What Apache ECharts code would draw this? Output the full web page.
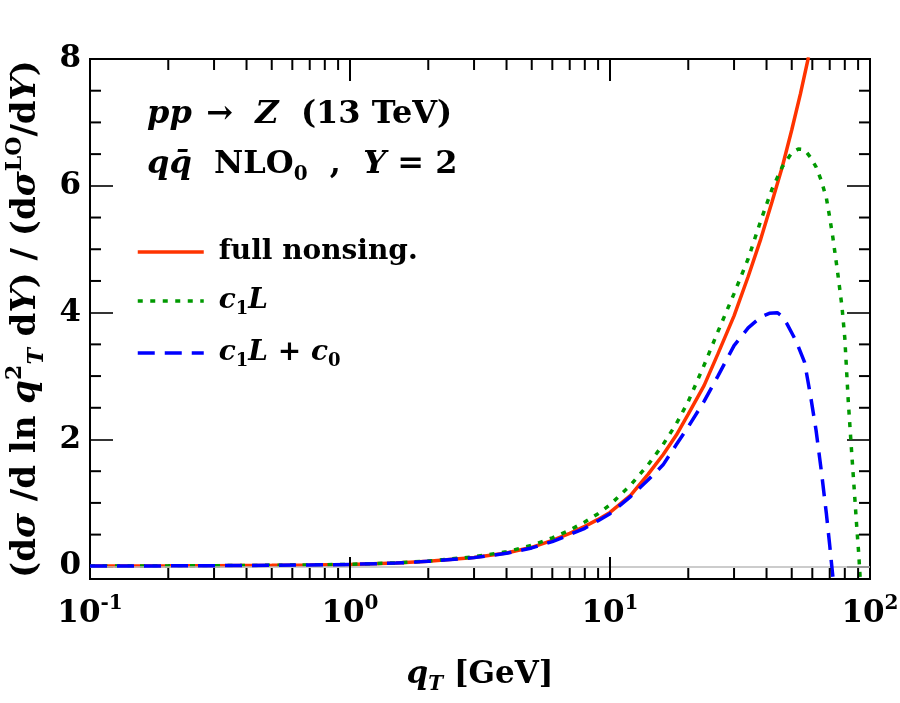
<!DOCTYPE html>
<html lang="en">
  <head>
    <meta charset="utf-8" />
    <title>qqbar NLO0 nonsingular ratio</title>
    <script src="https://cdn.jsdelivr.net/npm/echarts@6/dist/echarts.min.js"></script>
    <style>
      html, body { margin: 0; padding: 0; background: #fff; }
      #chart { width: 900px; height: 703px; }
    </style>
  </head>
  <body>
    <div id="chart"></div>
    <script>
      // values (qT in GeV, ratio)
      var qtFull = [0.1, 0.2, 0.3, 0.5, 0.7, 1, 1.5, 2, 3, 4, 5, 6, 7, 8, 9, 10, 12, 14, 16, 18, 20, 23, 26, 30, 34, 38, 42, 46, 50, 54, 58]
      var full = [0.004, 0.007, 0.010, 0.016, 0.022, 0.030, 0.052, 0.08, 0.14, 0.21, 0.30, 0.41, 0.52, 0.63, 0.74, 0.85, 1.12, 1.45, 1.76, 2.07, 2.4, 2.85, 3.35, 3.95, 4.57, 5.16, 5.75, 6.30, 6.88, 7.45, 8.03]

      var qtC1L = [0.1, 0.2, 0.3, 0.5, 0.7, 1, 1.5, 2, 3, 4, 5, 6, 7, 8, 9, 10, 12, 14, 16, 18, 20, 23, 26, 30, 34, 38, 42, 46, 50, 53, 56, 59, 62, 65, 68, 70, 72, 75, 78, 80, 82.5, 85, 87, 89, 90.5, 92]
      var c1L = [0.004, 0.007, 0.010, 0.016, 0.022, 0.031, 0.054, 0.083, 0.15, 0.23, 0.33, 0.45, 0.57, 0.70, 0.83, 0.97, 1.28, 1.6, 1.92, 2.25, 2.6, 3.17, 3.7, 4.3, 4.85, 5.45, 5.95, 6.3, 6.52, 6.58, 6.57, 6.45, 6.3, 6.08, 5.8, 5.5, 5.18, 4.65, 4.1, 3.6, 2.6, 1.8, 1.2, 0.6, 0.2, -0.3]

      var qtC1Lc0 = [0.1, 0.2, 0.3, 0.5, 0.7, 1, 1.5, 2, 3, 4, 5, 6, 7, 8, 9, 10, 12, 14, 16, 18, 20, 23, 26, 30, 34, 38, 41, 44, 46, 48, 52, 56, 59, 62, 65, 68, 70, 71.5, 73]
      var c1Lc0 = [0.004, 0.007, 0.010, 0.016, 0.022, 0.030, 0.051, 0.078, 0.137, 0.205, 0.29, 0.39, 0.5, 0.6, 0.72, 0.83, 1.1, 1.36, 1.6, 1.92, 2.2, 2.6, 3.0, 3.48, 3.76, 3.93, 3.99, 4.0, 3.94, 3.82, 3.55, 3.22, 2.7, 2.15, 1.5, 0.82, 0.33, -0.05, -0.4]

      var seriesNames = ['full nonsing.', 'c1L', 'c1L + c0']
      var xMajorTicks = [1, 10]
      var xMinorTicks = [0.2, 0.3, 0.4, 0.5, 0.6, 0.7, 0.8, 0.9, 2, 3, 4, 5, 6, 7, 8, 9, 20, 30, 40, 50, 60, 70, 80, 90]
      var yMinorTicks = [0.5, 1, 1.5, 2.5, 3, 3.5, 4.5, 5, 5.5, 6.5, 7, 7.5]

      var FONT = 'DejaVu Serif'
      var Y_MIN = -0.2, Y_MAX = 8
      var MAJOR_LEN = 22, MINOR_LEN = 11

      function zip(xs, ys) {
        return xs.map(function (x, i) { return [x, ys[i]] })
      }

      function richSet(size, lh) {
        var base = { fontFamily: FONT, fontWeight: 'bold', color: '#000' }
        var small = Math.round(size * 0.64), slh = Math.round(lh * 0.62)
        return {
          n: Object.assign({}, base, { fontSize: size, lineHeight: lh }),
          i: Object.assign({}, base, { fontSize: size, lineHeight: lh, fontStyle: 'italic' }),
          sup: Object.assign({}, base, { fontSize: small, lineHeight: slh, verticalAlign: 'top' }),
          sub: Object.assign({}, base, { fontSize: small, lineHeight: slh, verticalAlign: 'bottom' }),
          subi: Object.assign({}, base, { fontSize: small, lineHeight: slh, verticalAlign: 'bottom', fontStyle: 'italic' }),
          sp: { width: 10 }
        }
      }

      var chart = echarts.init(document.getElementById('chart'), null, { renderer: 'canvas' })

      var tickLine = { color: '#000', width: 1.6 }
      var frameLine = { color: '#000', width: 2 }

      function tickSeg(x1, y1, x2, y2) {
        return { type: 'line', shape: { x1: x1, y1: y1, x2: x2, y2: y2 }, style: { stroke: '#000', lineWidth: 2 } }
      }

      // vertical ticks at bottom and top of the frame
      function xTickSeries(values, len) {
        return {
          type: 'custom', clip: false, zlevel: 1, z: 10,
          data: values.map(function (v) { return [v, 0] }),
          encode: { x: 0, y: 1 },
          renderItem: function (params, api) {
            var v = api.value(0)
            var b = api.coord([v, Y_MIN])
            var t = api.coord([v, Y_MAX])
            return {
              type: 'group',
              children: [tickSeg(b[0], b[1], b[0], b[1] - len), tickSeg(t[0], t[1], t[0], t[1] + len)]
            }
          }
        }
      }

      chart.setOption({
        animation: false,
        backgroundColor: '#fff',
        grid: {
          left: 90, right: 30, top: 59, bottom: 124,
          containLabel: false, outerBoundsMode: 'none',
          show: true, borderColor: '#000', borderWidth: 2, backgroundColor: 'transparent'
        },
        xAxis: {
          type: 'log', logBase: 10, min: 0.1, max: 100,
          position: 'bottom',
          axisLine: { onZero: false, lineStyle: frameLine },
          axisTick: { show: false },
          splitLine: { show: false },
          axisLabel: {
            margin: 15,
            formatter: function (v) {
              return '{n|10}{sup|' + Math.round(Math.log10(v)) + '}'
            },
            rich: richSet(31, 40)
          },
          name: '{i|q}{subi|T}{n| [GeV]}',
          nameLocation: 'middle',
          nameGap: 76,
          nameTextStyle: { rich: richSet(31, 40) }
        },
        yAxis: [{
          type: 'value', min: Y_MIN, max: Y_MAX, splitNumber: 4,
          position: 'left',
          axisLine: { show: true, onZero: false, lineStyle: frameLine },
          axisTick: { show: true, inside: true, length: 23, lineStyle: tickLine },
          splitLine: { show: false },
          axisLabel: {
            margin: 9,
            fontFamily: FONT, fontWeight: 'bold', fontSize: 31, color: '#000',
            formatter: function (v) {
              return (v >= 0 && Math.abs(v / 2 - Math.round(v / 2)) < 1e-6) ? String(Math.round(v)) : ''
            }
          },
          name: '{n|(d}{i|σ}{n| /d ln}{i| q}{sup|2}{subi|T}{n| d}{i|Y}{n|) / (d}{i|σ}{sup|LO}{n|/d}{i|Y}{n|)}',
          nameLocation: 'middle',
          nameRotate: 90,
          nameGap: 42,
          nameTextStyle: { rich: richSet(34, 44) }
        }, {
          type: 'value', min: Y_MIN, max: Y_MAX, splitNumber: 4,
          position: 'right',
          axisLine: { show: true, onZero: false, lineStyle: frameLine },
          axisTick: { show: true, inside: true, length: 23, lineStyle: tickLine },
          axisLabel: { show: false },
          splitLine: { show: false }
        }],
        legend: {
          orient: 'vertical',
          left: 136,
          top: 238,
          padding: 0,
          itemWidth: 66,
          itemHeight: 14,
          itemGap: 21,
          data: seriesNames,
          lineStyle: { width: 3.5 },
          itemStyle: { opacity: 0 },
          formatter: function (name) {
            if (name === 'c1L') return '{sp|}{i|c}{sub|1}{i|L}'
            if (name === 'c1L + c0') return '{sp|}{i|c}{sub|1}{i|L}{n| + }{i|c}{sub|0}'
            return '{sp|}{n|' + name + '}'
          },
          textStyle: { rich: richSet(28, 34) }
        },
        graphic: [{
          type: 'text', left: 147, top: 99,
          style: { text: '{i|pp} {n| → }{i| Z}{n|  (13 TeV)}', rich: richSet(32, 40) }
        }, {
          type: 'text', left: 147, top: 149,
          style: { text: '{i|qq\u0304}{n|  NLO}{sub|0}{n|  ,  }{i|Y}{n| = 2}', rich: richSet(32, 40) }
        }],
        series: [{
          name: seriesNames[0], type: 'line', showSymbol: false, symbol: 'none',
          data: zip(qtFull, full), z: 3,
          lineStyle: { color: '#ff3300', width: 3.5, type: 'solid' },
          itemStyle: { color: '#ff3300' },
          markLine: {
            silent: true, symbol: 'none', label: { show: false },
            lineStyle: { color: '#bbbbbb', width: 1.5, type: 'solid' },
            data: [{ yAxis: 0 }]
          }
        }, {
          name: seriesNames[1], type: 'line', showSymbol: false, symbol: 'none',
          data: zip(qtC1L, c1L), z: 4,
          lineStyle: { color: '#009900', width: 3.5, type: [5, 7.5] },
          itemStyle: { color: '#009900' }
        }, {
          name: seriesNames[2], type: 'line', showSymbol: false, symbol: 'none',
          data: zip(qtC1Lc0, c1Lc0), z: 5,
          lineStyle: { color: '#0000ff', width: 3.5, type: [17, 10] },
          itemStyle: { color: '#0000ff' }
        },
        xTickSeries(xMajorTicks, MAJOR_LEN),
        xTickSeries(xMinorTicks, MINOR_LEN),
        {
          // minor ticks on left and right y axes
          type: 'custom', clip: false,
          data: yMinorTicks.map(function (v) { return [1, v] }),
          encode: { x: 0, y: 1 },
          renderItem: function (params, api) {
            var v = api.value(1)
            var l = api.coord([0.1, v])
            var r = api.coord([100, v])
            return {
              type: 'group',
              children: [tickSeg(l[0], l[1], l[0] + MINOR_LEN, l[1]), tickSeg(r[0], r[1], r[0] - MINOR_LEN, r[1])]
            }
          }
        }]
      })
    </script>
  </body>
</html>
